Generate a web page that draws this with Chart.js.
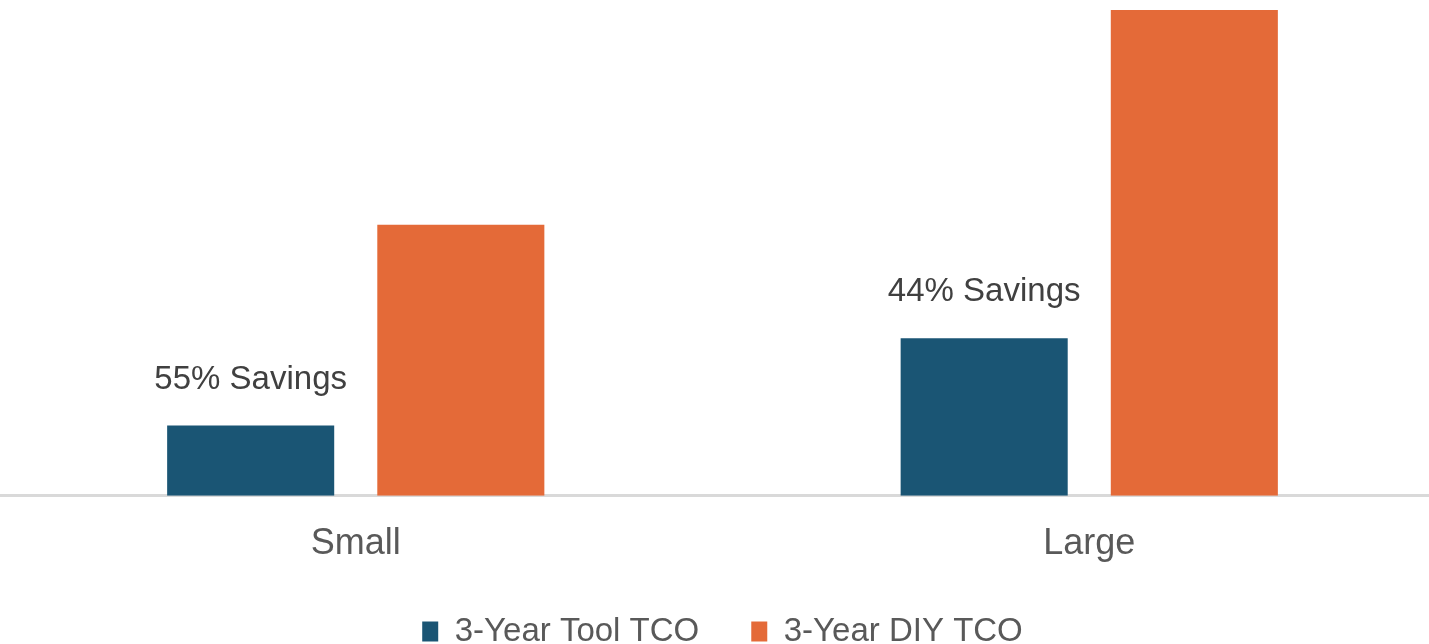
<!DOCTYPE html>
<html>
<head>
<meta charset="utf-8">
<script src="https://cdn.jsdelivr.net/npm/chart.js@4"></script>
<style>
    html, body { margin: 0; padding: 0; background: #fff; overflow: hidden; }
    #wrap { position: absolute; left: -11px; top: 0; width: 1467px; height: 688px; }
</style>
</head>
<body>
<div id="wrap"><canvas id="tco-chart"></canvas></div>
<script>
// --- Dados do gráfico ---
const categories = ['Small', 'Large'];
const toolTco = [70, 157];
const diyTco = [270, 484];
const savingsLabels = ['55% Savings', '44% Savings'];

const FONT = '"Liberation Sans", Arial, sans-serif';

// Escreve o texto de economia acima das barras azuis
const savingsPlugin = {
    id: 'savingsLabels',
    afterDatasetsDraw(chart) {
        const ctx = chart.ctx;
        const meta = chart.getDatasetMeta(0);
        ctx.save();
        ctx.font = '33px ' + FONT;
        ctx.fillStyle = '#404040';
        ctx.textAlign = 'center';
        ctx.textBaseline = 'middle';
        meta.data.forEach((bar, i) => {
            ctx.fillText(savingsLabels[i], bar.x, bar.y - 46);
        });
        ctx.restore();
    }
};

// Sobe a legenda um pouco, mais perto dos rótulos do eixo
const legendNudge = {
    id: 'legendNudge',
    afterLayout(chart) {
        const legend = chart.legend;
        legend.top -= 30;
        legend.bottom -= 30;
    }
};

new Chart(document.getElementById('tco-chart'), {
    type: 'bar',
    data: {
        labels: categories,
        datasets: [
            {
                label: '3-Year Tool TCO',
                data: toolTco,
                backgroundColor: '#1A5574',
                categoryPercentage: 0.573,
                barPercentage: 0.795
            },
            {
                label: '3-Year DIY TCO',
                data: diyTco,
                backgroundColor: '#E46A38',
                categoryPercentage: 0.573,
                barPercentage: 0.795
            }
        ]
    },
    options: {
        responsive: true,
        maintainAspectRatio: false,
        animation: false,
        layout: { padding: { top: 10, left: 0, right: 0, bottom: 0 } },
        scales: {
            x: {
                grid: { display: false, drawTicks: false },
                border: { display: true, color: '#D9D9D9', width: 3 },
                ticks: { color: '#595959', font: { family: FONT, size: 36 }, padding: 27 }
            },
            y: {
                display: false,
                min: 0,
                max: 484
            }
        },
        plugins: {
            tooltip: { enabled: false },
            legend: {
                position: 'bottom',
                labels: {
                    color: '#595959',
                    font: { family: FONT, size: 33 },
                    boxWidth: 16,
                    boxHeight: 20,
                    padding: 52
                }
            }
        }
    },
    plugins: [savingsPlugin, legendNudge]
});
</script>
</body>
</html>
